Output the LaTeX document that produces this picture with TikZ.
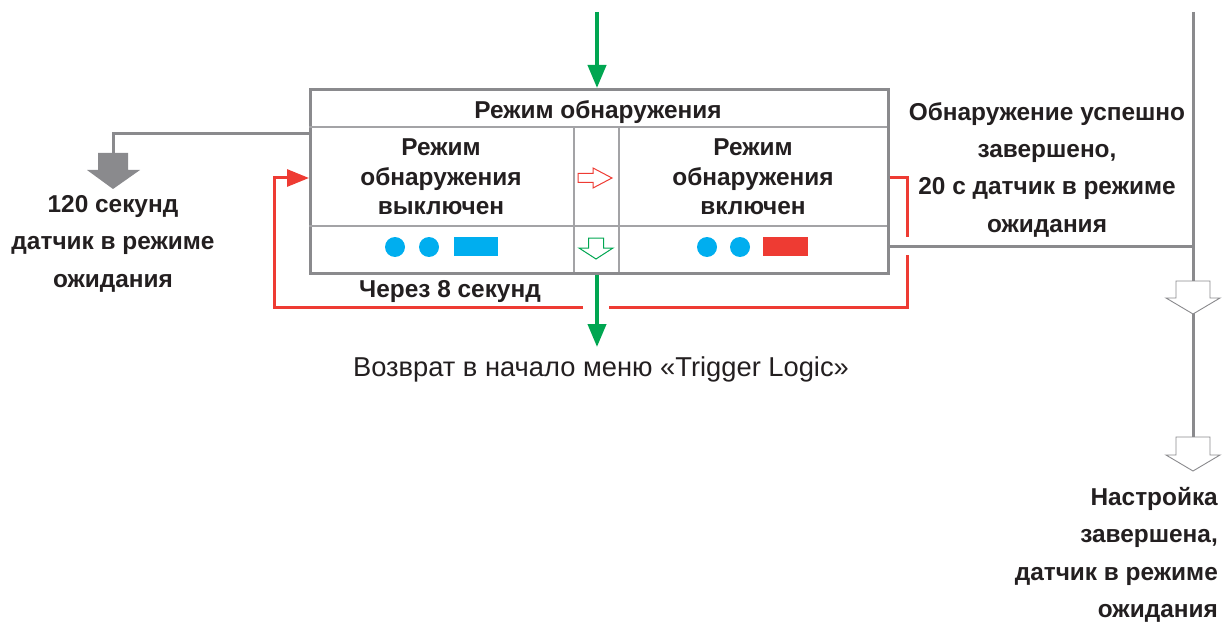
\documentclass[tikz,border=0pt]{standalone}
\usepackage{fontspec}
\setmainfont{Liberation Sans}
\usetikzlibrary{arrows.meta}
\definecolor{frameGray}{HTML}{8A8A8D}
\definecolor{gridGray}{HTML}{A3A3A6}
\definecolor{flowGreen}{HTML}{00A651}
\definecolor{flowRed}{HTML}{EE3B33}
\definecolor{ledBlue}{HTML}{00AEEF}
\definecolor{inkDark}{HTML}{231F20}
\tikzset{
  boxtext/.style={font=\bfseries\fontsize{24.4}{29.5}\selectfont, text=inkDark, align=center, inner sep=0pt},
  sidetext/.style={font=\bfseries\fontsize{24.4}{37.3}\selectfont, text=inkDark, inner sep=0pt},
  plaintext/.style={font=\fontsize{27.3}{30}\selectfont, text=inkDark, inner sep=0pt},
  grayline/.style={draw=frameGray, line width=3pt},
  gridline/.style={draw=gridGray, line width=1.4pt},
  greenflow/.style={draw=flowGreen, line width=4pt, -{Triangle[length=23pt,width=18pt]}},
  redflow/.style={draw=flowRed, line width=3pt},
  hollowgray/.style={draw=frameGray, line width=0.9pt, fill=white},
}
\begin{document}
\begin{tikzpicture}[x=1pt,y=-1pt]
\useasboundingbox (0,0) rectangle (1224,623);

% main mode table
\node[draw=frameGray, line width=2.6pt, minimum width=578pt, minimum height=184pt,
      anchor=north west, inner sep=0pt] (box) at (309,88) {};
\draw[gridline] (309,127) -- (887,127);
\draw[gridline] (309,226) -- (887,226);
\draw[gridline] (574,127) -- (574,272);
\draw[gridline] (619,127) -- (619,272);

\node[boxtext, anchor=base] (title) at (598,118.5) {Режим обнаружения};
\node[boxtext] (offtxt) at (441,177) {Режим\\обнаружения\\выключен};
\node[boxtext] (ontxt) at (753,177) {Режим\\обнаружения\\включен};

% indicator lights
\fill[ledBlue] (395,247) circle (10);
\fill[ledBlue] (429,247) circle (10);
\fill[ledBlue] (454,237) rectangle (498,256);
\fill[ledBlue] (707,247) circle (10);
\fill[ledBlue] (740,247) circle (10);
\fill[flowRed] (763,237) rectangle (808,256);

% hollow arrows in the middle column
\draw[draw=flowRed, line width=1pt, fill=white]
  (578,173.5) -- (593,173.5) -- (593,168) -- (612,178) -- (593,188) -- (593,182.5) -- (578,182.5) -- cycle;
\draw[draw=flowGreen, line width=1pt, fill=white]
  (588.5,238) -- (603.5,238) -- (603.5,248) -- (613,248) -- (596,259) -- (579,248) -- (588.5,248) -- cycle;

% entry and exit
\coordinate (gin) at (597,12);
\coordinate (gout) at (597,347);
\draw[greenflow] (gin) -- (gin |- box.north);
\draw[greenflow] (gout |- box.south) -- (gout);

% timeout branch to the left
\coordinate (lcorner) at (113,134);
\coordinate (lfoot) at (113,153);
\draw[grayline] (box.west |- lcorner) -- (lcorner) -- (lfoot);
\fill[frameGray] (98,153) -- (128,153) -- (128,170) -- (140,170) -- (113,189) -- (87,170) -- (98,170) -- cycle;

% red return loop
\coordinate (rtop) at (907,178);
\coordinate (rmid) at (907,237);
\coordinate (rlow) at (907,255);
\coordinate (rbot) at (907,307);
\coordinate (rgapr) at (609,307);
\coordinate (rgapl) at (583,307);
\coordinate (lbot) at (274,307);
\coordinate (ltop) at (274,178);
\draw[redflow] (rtop -| box.east) -- (rtop) -- (rmid);
\draw[redflow] (rlow) -- (rbot) -- (rgapr);
\draw[redflow, -{Triangle[length=22pt,width=17pt]}] (rgapl) -- (lbot) -- (ltop) -- (ltop -| box.west);

% completion branch on the right
\coordinate (rjoin) at (1193,246);
\coordinate (rtopline) at (1193,12);
\coordinate (rend) at (1193,437);
\draw[grayline] (box.east |- rjoin) -- (rjoin);
\draw[grayline] (rtopline) -- (rend);
\draw[hollowgray] (1176,281) -- (1210,281) -- (1210,298) -- (1220,298) -- (1193,314) -- (1166,298) -- (1176,298) -- cycle;
\draw[hollowgray] (1176,437) -- (1210,437) -- (1210,455) -- (1220,455) -- (1193,471) -- (1166,455) -- (1176,455) -- cycle;

% labels
\node[sidetext, align=center] (leftlbl) at (113,243.8) {120 секунд\\датчик в режиме\\ожидания};
\node[sidetext, align=center] (rightlbl) at (1047,169.8) {Обнаружение успешно\\завершено,\\20 с датчик в режиме\\ожидания};
\node[sidetext, align=right, anchor=east] (donelbl) at (1218,554.8) {Настройка\\завершена,\\датчик в режиме\\ожидания};
\node[sidetext, anchor=base] (waitlbl) at (450,297) {Через 8 секунд};
\node[plaintext, anchor=base] (backlbl) at (601,376) {Возврат в начало меню «Trigger Logic»};
\end{tikzpicture}
\end{document}
